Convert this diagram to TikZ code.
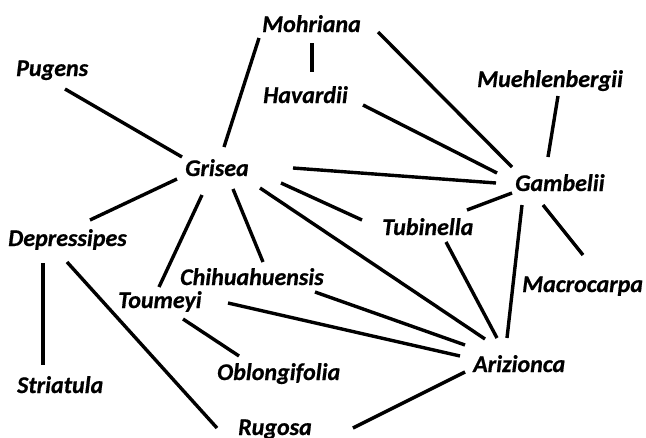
\documentclass[tikz,border=0pt]{standalone}
\usepackage{fontspec}
\setmainfont{Carlito}[BoldItalicFeatures={FakeBold=0.6}]
\usetikzlibrary{calc}
\begin{document}
\begin{tikzpicture}[x=1pt,y=-1pt,
  lbl/.style={anchor=base west,inner sep=0pt,font=\fontsize{24}{29}\selectfont\bfseries\itshape},
  edge/.style={line width=3.4pt}]
\useasboundingbox[fill=white] (0,0) rectangle (646,437);
\node[lbl] (mohriana) at (262,32) {Mohriana};
\node[lbl] (havardii) at (263,103) {Havardii};
\node[lbl] (pugens) at (16,76) {Pugens};
\node[lbl] (grisea) at (185,176) {Grisea};
\node[lbl] (muehl) at (477,87) {Muehlenbergii};
\node[lbl] (gambelii) at (515,191) {Gambelii};
\node[lbl] (depress) at (8,246) {Depressipes};
\node[lbl] (chihua) at (180,285) {Chihuahuensis};
\node[lbl] (toumeyi) at (118,308) {Toumeyi};
\node[lbl] (striatula) at (17,393) {Striatula};
\node[lbl] (oblong) at (217,380) {Oblongifolia};
\node[lbl] (rugosa) at (238,435) {Rugosa};
\node[lbl] (tubinella) at (382,235) {Tubinella};
\node[lbl] (macro) at (522,292) {Macrocarpa};
\node[lbl] (arizionca) at (473,372) {Arizionca};
\newcommand{\edgeline}[6]{\draw[edge] ($(#1.base west)+(#2,#3)$) -- ($(#4.base west)+(#5,#6)$);}
\edgeline{pugens}{49}{13}{grisea}{-3}{-19}
\edgeline{mohriana}{-3}{6}{grisea}{39}{-29}
\edgeline{mohriana}{50}{11}{havardii}{49}{-31}
\edgeline{mohriana}{116}{0}{gambelii}{-3}{-24}
\edgeline{havardii}{100}{2}{gambelii}{-18}{-18}
\edgeline{muehl}{81}{9}{gambelii}{33}{-34}
\edgeline{grisea}{108}{-8}{gambelii}{-19}{-8}
\edgeline{grisea}{96}{7}{tubinella}{-20}{-15}
\edgeline{gambelii}{-3}{2}{tubinella}{85}{-25}
\edgeline{gambelii}{7}{14}{arizionca}{34}{-34}
\edgeline{gambelii}{28}{14}{macro}{61}{-37}
\edgeline{tubinella}{64}{7}{arizionca}{24}{-34}
\edgeline{grisea}{75}{12}{arizionca}{12}{-33}
\edgeline{chihua}{135}{7}{arizionca}{-8}{-27}
\edgeline{toumeyi}{110}{-5}{arizionca}{-13}{-16}
\edgeline{arizionca}{-8}{0}{rugosa}{115}{-7}
\edgeline{grisea}{17}{19}{toumeyi}{41}{-21}
\edgeline{grisea}{48}{13}{chihua}{83}{-23}
\edgeline{grisea}{-8}{3}{depress}{82}{-26}
\edgeline{depress}{35}{17}{striatula}{26}{-28}
\edgeline{depress}{59}{16}{rugosa}{-21}{-7}
\edgeline{toumeyi}{65}{11}{oblong}{22}{-24}
\end{tikzpicture}
\end{document}
